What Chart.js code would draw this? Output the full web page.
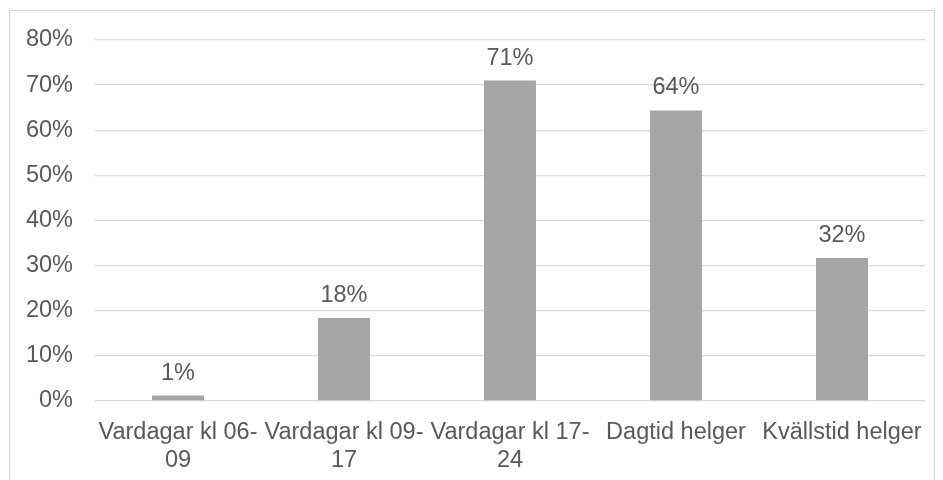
<!DOCTYPE html>
<html>
<head>
<meta charset="utf-8">
<script src="https://cdn.jsdelivr.net/npm/chart.js@4"></script>
<style>
  html, body { margin: 0; padding: 0; background: #fff; }
  #wrap { position: relative; width: 943px; height: 480px; }
  #ram { position: absolute; left: 9px; top: 10px; width: 926px; height: 480px; border: 1px solid #D9D9D9; box-sizing: border-box; }
  canvas { position: absolute; left: 0; top: 0; }
</style>
</head>
<body>
<div id="wrap">
  <div id="ram"></div>
  <canvas id="grafico" width="943" height="480"></canvas>
</div>
<script>
// kategorier (radbrytning som i originalet)
const kategorier = [
  ["Vardagar kl 06-", "09"],
  ["Vardagar kl 09-", "17"],
  ["Vardagar kl 17-", "24"],
  "Dagtid helger",
  "Kvällstid helger"
];
const andelar = [1.2, 18.4, 71.0, 64.4, 31.7];
const yTicks = [0, 10, 20, 30, 40, 50, 60, 70, 80];

const textFarg = "#595959";
const typsnitt = { family: "Liberation Sans, Arial, sans-serif", size: 23.5 };

// etiketter ovanför staplarna
const etiketter = {
  id: "etiketter",
  afterDatasetsDraw(chart) {
    const ctx = chart.ctx;
    const meta = chart.getDatasetMeta(0);
    ctx.save();
    ctx.fillStyle = textFarg;
    ctx.font = typsnitt.size + "px " + typsnitt.family;
    ctx.textAlign = "center";
    ctx.textBaseline = "alphabetic";
    meta.data.forEach((bar, i) => {
      ctx.fillText(Math.round(andelar[i]) + "%", bar.x, bar.y - 16);
    });
    ctx.restore();
  }
};

const ctx = document.getElementById("grafico");

new Chart(ctx, {
  type: "bar",
  data: {
    labels: kategorier,
    datasets: [{
      data: andelar,
      backgroundColor: "#A5A5A5",
      barPercentage: 0.313,
      categoryPercentage: 1
    }]
  },
  options: {
    responsive: false,
    animation: false,
    events: [],
    layout: { padding: { top: 40, right: 18, left: 0, bottom: 0 } },
    plugins: { legend: { display: false }, tooltip: { enabled: false } },
    scales: {
      x: {
        grid: { display: false, drawTicks: false },
        border: { display: false },
        ticks: { color: textFarg, font: typsnitt, maxRotation: 0, autoSkip: false, padding: 17 },
        afterFit: (s) => { s.height = 79; }
      },
      y: {
        min: 0,
        max: 80,
        afterBuildTicks: (s) => { s.ticks = yTicks.map(v => ({ value: v })); },
        grid: { color: "#D9D9D9", lineWidth: 1.3, drawTicks: false },
        border: { display: false },
        ticks: { color: textFarg, font: typsnitt, padding: 22, callback: (v) => v + "%" },
        afterFit: (s) => { s.width = 95; }
      }
    }
  },
  plugins: [etiketter]
});
</script>
</body>
</html>
